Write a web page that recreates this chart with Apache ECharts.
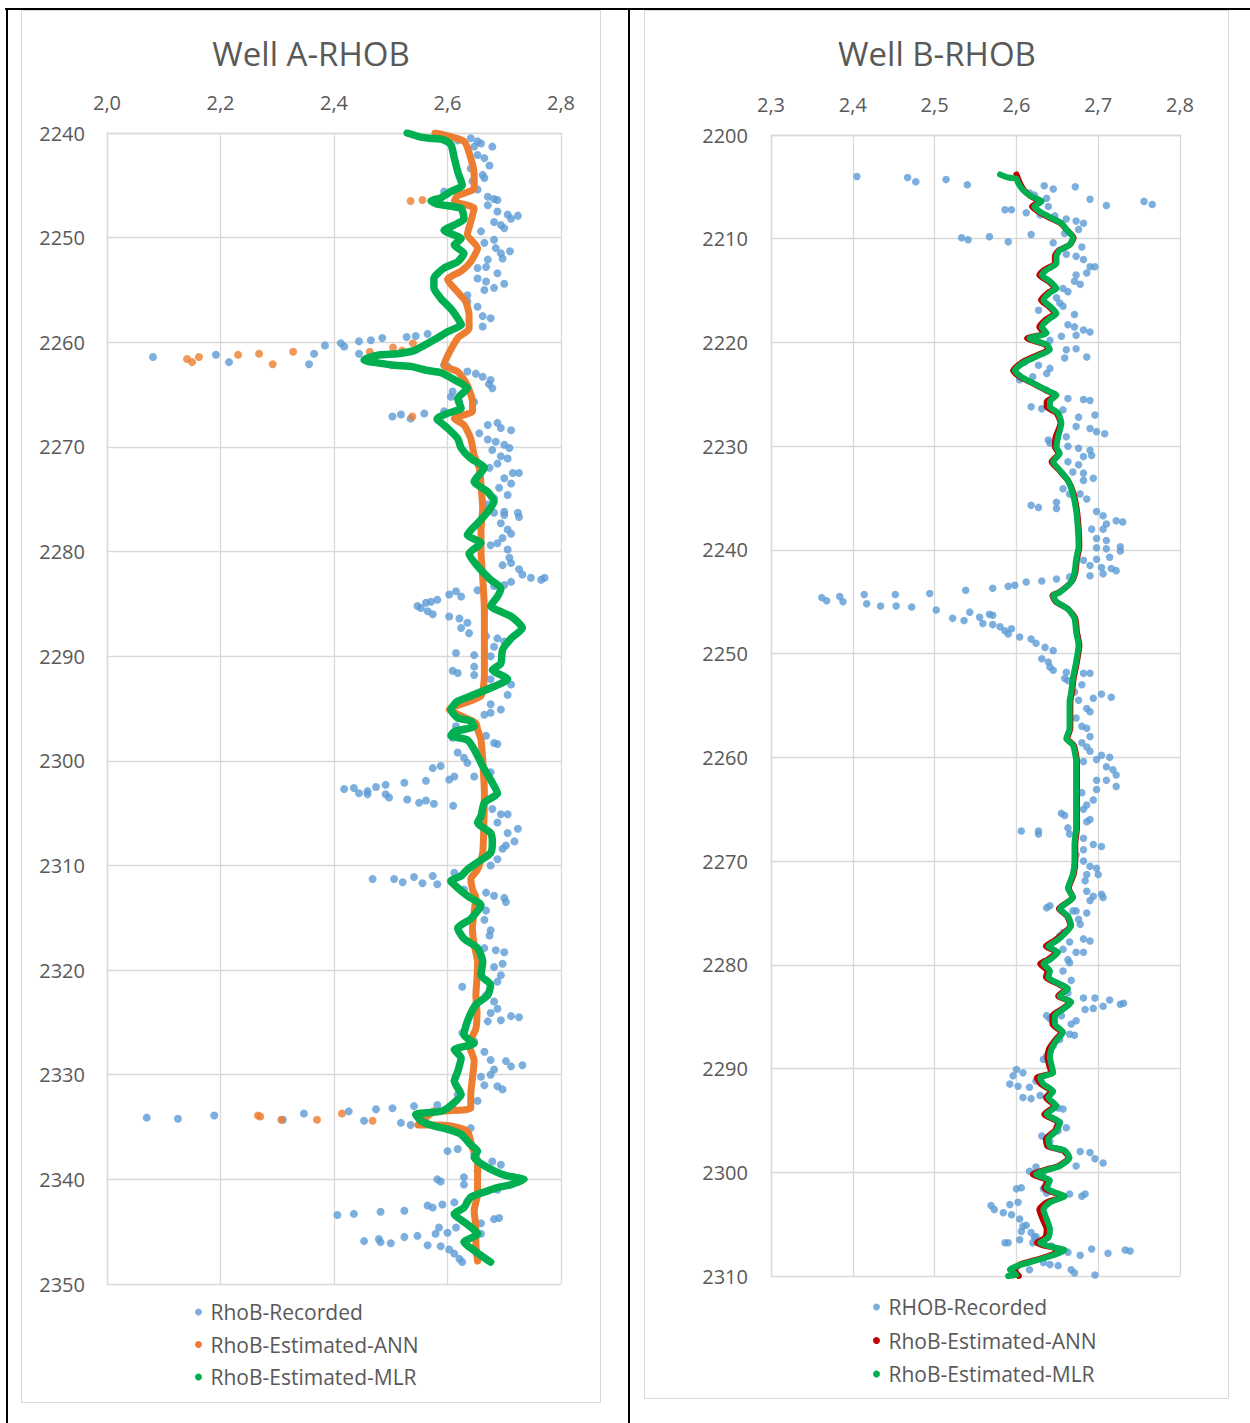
<!DOCTYPE html>
<html>
<head>
<meta charset="utf-8">
<script src="https://cdn.jsdelivr.net/npm/echarts@6/dist/echarts.min.js"></script>
<style>
html,body{margin:0;padding:0;background:#fff;}
#page{position:relative;width:1250px;height:1423px;overflow:hidden;background:#fff;}
.chart{position:absolute;left:0;top:0;width:1250px;height:1423px;}
.bl{position:absolute;background:#000;}
.gb{position:absolute;border:1.5px solid #D9D9D9;box-sizing:border-box;}
</style>
</head>
<body>
<div id="page">
  <div class="bl" style="left:5px;top:8px;width:1245px;height:2px;"></div>
  <div class="bl" style="left:6px;top:8px;width:2px;height:1415px;"></div>
  <div class="bl" style="left:628px;top:8px;width:2px;height:1415px;"></div>
  <div class="gb" style="left:21px;top:10px;width:580px;height:1393px;"></div>
  <div class="gb" style="left:644px;top:10px;width:585px;height:1389px;"></div>
  <div id="chartA" class="chart"></div>
  <div id="chartB" class="chart"></div>
</div>
<script>
// ---------------- Well A data: [RHOB value, depth] ----------------
const wellA_xTicks = [2.0, 2.8, 0.2];
const wellA_yTicks = [2240, 2350, 10];
const wellA_recorded = [
[2.618,2240.7],[2.641,2240.5],[2.653,2240.8],[2.659,2241.0],[2.679,2241.3],[2.647,2241.3],[2.653,2242.1],[2.665,2242.4],[2.674,2243.1],[2.641,2243.4],[2.662,2244.0],[2.665,2244.3],[2.644,2244.6],[2.653,2245.4],[2.594,2245.6],[2.671,2246.1],[2.682,2246.3],[2.688,2246.4],[2.671,2246.9],[2.688,2247.5],[2.706,2247.8],[2.724,2247.9],[2.712,2248.2],[2.682,2248.5],[2.694,2248.8],[2.700,2249.1],[2.659,2249.4],[2.665,2250.5],[2.682,2250.2],[2.685,2251.0],[2.694,2251.5],[2.710,2251.3],[2.697,2252.0],[2.671,2252.1],[2.668,2252.8],[2.653,2252.9],[2.688,2253.4],[2.653,2253.9],[2.668,2254.2],[2.700,2254.4],[2.682,2254.8],[2.665,2255.0],[2.635,2255.5],[2.635,2256.1],[2.653,2256.6],[2.662,2257.5],[2.676,2257.7],[2.662,2258.5],[2.624,2258.3],
[2.565,2259.2],[2.544,2259.4],[2.528,2259.5],[2.485,2259.6],[2.465,2259.8],[2.444,2259.9],[2.412,2260.1],[2.418,2260.4],[2.384,2260.3],[2.365,2261.1],[2.356,2262.1],[2.444,2261.1],[2.594,2262.2],[2.081,2261.4],[2.192,2261.2],[2.215,2261.9],
[2.600,2262.3],[2.635,2262.8],[2.650,2263.0],[2.662,2263.3],[2.676,2263.6],[2.673,2264.0],[2.679,2264.4],[2.609,2264.7],[2.606,2265.2],[2.621,2265.7],[2.647,2265.7],[2.503,2267.1],[2.518,2266.9],[2.535,2267.3],[2.559,2266.8],[2.594,2266.6],[2.582,2267.4],[2.671,2267.9],[2.688,2267.7],[2.694,2268.2],[2.712,2268.4],[2.656,2268.7],[2.671,2269.3],[2.685,2269.5],[2.700,2269.8],[2.709,2270.1],[2.679,2270.3],[2.694,2270.9],[2.706,2271.1],[2.688,2271.6],[2.674,2272.0],[2.715,2272.5],[2.726,2272.5],[2.700,2273.0],[2.712,2273.5],[2.691,2273.9],[2.706,2274.6],[2.682,2274.9],[2.671,2275.5],[2.700,2276.2],[2.724,2276.3],
[2.682,2276.3],[2.700,2276.5],[2.726,2276.7],[2.694,2277.3],[2.706,2277.9],[2.712,2278.3],[2.697,2278.7],[2.688,2279.2],[2.676,2279.4],[2.706,2279.8],[2.709,2280.6],[2.712,2281.1],[2.697,2281.3],[2.726,2281.7],[2.732,2282.2],[2.747,2282.5],[2.765,2282.7],[2.771,2282.5],[2.712,2282.9],[2.700,2283.2],[2.653,2283.7],[2.682,2283.3],
[2.547,2285.2],[2.553,2285.4],[2.562,2284.9],[2.571,2284.8],[2.582,2284.6],[2.565,2285.7],[2.574,2286.0],[2.603,2284.1],[2.615,2283.8],[2.624,2284.3],[2.603,2286.2],[2.621,2286.4],[2.635,2286.8],[2.624,2287.3],[2.638,2287.8],[2.668,2288.1],[2.688,2288.3],[2.700,2288.6],[2.682,2289.1],[2.615,2289.7],[2.647,2289.9],[2.676,2290.0],[2.647,2291.0],[2.609,2291.4],[2.618,2291.6],[2.647,2291.8],[2.676,2292.2],[2.712,2292.7],[2.706,2293.7],[2.676,2294.6],[2.694,2295.1],[2.676,2295.4],[2.665,2295.6],[2.615,2296.7],[2.629,2297.0],[2.609,2297.8],[2.668,2297.6],[2.682,2298.3],[2.688,2298.4],[2.618,2299.2],[2.629,2299.7],[2.635,2300.2],[2.647,2301.5],[2.676,2301.1],[2.612,2301.5],[2.603,2301.8],[2.588,2300.5],[2.574,2300.7],[2.562,2301.9],[2.524,2302.1],[2.491,2302.3],[2.474,2302.5],[2.459,2302.9],[2.459,2303.2],[2.444,2303.1],[2.435,2302.6],[2.418,2302.7],[2.491,2303.2],[2.497,2303.5],[2.529,2303.7],[2.550,2304.0],[2.562,2303.8],[2.576,2304.1],[2.610,2304.3],[2.679,2304.6],[2.694,2305.1],[2.706,2305.1],[2.688,2305.9],[2.724,2306.5],[2.706,2306.9],[2.718,2307.7],[2.703,2308.1],[2.697,2308.4],[2.688,2309.4],[2.676,2310.0],[2.612,2310.7],[2.468,2311.3],[2.506,2311.3],[2.521,2311.6],[2.541,2311.1],[2.556,2311.7],[2.574,2311.0],[2.582,2311.8],[2.606,2311.5],[2.629,2312.3],[2.668,2312.6],[2.682,2312.9],[2.700,2313.1],
[2.703,2313.5],[2.668,2314.3],[2.665,2315.2],[2.676,2316.2],[2.674,2316.7],[2.665,2317.9],[2.685,2318.1],[2.700,2318.3],[2.697,2319.4],[2.682,2319.7],[2.626,2321.6],[2.694,2320.5],[2.688,2321.1],[2.668,2322.4],[2.682,2323.0],[2.688,2323.7],[2.676,2324.1],[2.694,2324.8],[2.712,2324.4],[2.726,2324.5],[2.671,2324.9],[2.626,2326.0],[2.647,2326.8],[2.665,2327.8],[2.676,2328.6],[2.703,2328.7],[2.712,2329.2],[2.732,2329.1],[2.682,2329.5],[2.676,2330.0],[2.659,2330.2],[2.665,2331.0],[2.688,2331.1],[2.697,2331.4],[2.653,2332.5],[2.618,2331.9],[2.609,2332.9],[2.582,2332.9],[2.541,2333.0],[2.503,2333.2],[2.474,2333.3],[2.426,2333.5],[2.347,2333.7],[2.453,2334.4],[2.518,2334.6],[2.535,2334.8],[2.600,2335.2],[2.641,2335.1],[2.070,2334.1],[2.125,2334.2],[2.189,2333.9],[2.310,2334.3],
[2.600,2337.3],[2.618,2337.1],[2.647,2337.6],[2.679,2338.3],[2.694,2338.6],[2.653,2339.2],[2.582,2340.0],[2.588,2340.2],[2.629,2339.8],[2.629,2340.5],[2.688,2341.0],[2.635,2342.1],[2.612,2342.2],[2.591,2342.4],[2.565,2342.5],[2.574,2342.7],[2.524,2343.0],[2.482,2343.1],[2.435,2343.3],[2.406,2343.4],[2.682,2343.8],[2.691,2343.7],[2.585,2344.6],[2.600,2345.1],[2.615,2344.6],[2.579,2345.2],[2.547,2345.4],[2.524,2345.5],[2.479,2345.7],[2.482,2346.0],[2.453,2345.9],[2.500,2346.1],[2.565,2346.3],[2.588,2346.4],[2.603,2346.7],[2.612,2347.1],[2.621,2347.6],[2.626,2347.9],[2.659,2345.2],[2.659,2344.2]
];
const wellA_annTrail = [
[2.578,2240.0],[2.629,2240.8],[2.641,2242.4],[2.647,2244.0],[2.647,2245.3],[2.618,2246.0],[2.612,2246.5],[2.647,2247.2],[2.641,2248.5],[2.635,2249.7],[2.653,2251.0],[2.641,2252.3],[2.624,2253.2],[2.600,2254.0],[2.618,2255.2],[2.632,2256.1],[2.638,2257.4],[2.638,2258.7],[2.618,2259.6],[2.594,2262.2],[2.618,2262.8],[2.635,2264.1],[2.644,2265.7],[2.644,2266.6],[2.612,2267.3],[2.629,2267.9],[2.641,2269.2],[2.647,2270.8],[2.656,2272.0],[2.659,2273.6],[2.662,2275.9],[2.659,2277.9],[2.659,2280.0],[2.662,2282.4],[2.665,2285.6],[2.665,2288.7],[2.665,2291.9],[2.659,2293.8],[2.629,2294.5],[2.603,2295.1],[2.624,2295.7],[2.650,2296.4],[2.653,2297.0],[2.659,2298.0],[2.662,2299.9],[2.665,2303.1],[2.664,2306.2],[2.662,2308.8],[2.653,2310.4],[2.641,2311.3],[2.644,2312.3],[2.650,2313.0],[2.647,2314.4],[2.644,2316.0],[2.647,2317.6],[2.653,2319.2],[2.652,2320.8],[2.650,2322.4],[2.652,2324.0],[2.650,2325.6],[2.638,2327.1],[2.647,2328.7],[2.644,2330.3],[2.641,2331.9],[2.641,2333.2],[2.575,2333.6],[2.548,2334.8],[2.576,2334.8],[2.606,2334.9],[2.635,2335.4],[2.644,2337.0],[2.653,2338.3],[2.653,2339.8],[2.653,2341.4],[2.647,2343.0],[2.650,2344.6],[2.650,2346.2],[2.653,2347.8]
];
const wellA_annIsolated = [
[2.535,2246.5],[2.556,2246.4],[2.141,2261.6],[2.150,2261.9],[2.162,2261.4],[2.231,2261.2],[2.268,2261.1],[2.292,2262.1],[2.328,2260.9],[2.463,2260.9],[2.504,2260.5],[2.520,2260.8],[2.539,2260.1],[2.502,2262.2],[2.538,2267.1],[2.266,2333.9],[2.270,2334.0],[2.307,2334.3],[2.370,2334.3],[2.414,2333.7],[2.468,2334.4],[2.575,2333.5]
];
const wellA_mlrTrail = [
[2.529,2240.0],[2.553,2240.4],[2.568,2240.5],[2.591,2240.6],[2.606,2241.1],[2.612,2242.4],[2.618,2243.7],[2.626,2245.0],[2.606,2245.6],[2.588,2246.2],[2.571,2246.5],[2.582,2246.8],[2.624,2247.2],[2.629,2248.2],[2.612,2248.8],[2.594,2249.3],[2.624,2250.1],[2.612,2250.7],[2.629,2251.5],[2.618,2252.3],[2.594,2252.9],[2.576,2253.9],[2.576,2254.8],[2.588,2255.8],[2.606,2256.8],[2.618,2257.7],[2.624,2258.3],[2.600,2259.0],[2.582,2259.6],[2.559,2260.3],[2.541,2260.8],[2.512,2261.1],[2.482,2261.2],[2.459,2261.5],[2.453,2261.7],[2.506,2262.2],[2.535,2262.3],[2.565,2262.7],[2.588,2262.9],[2.606,2263.4],[2.635,2264.4],[2.618,2265.4],[2.624,2266.3],[2.600,2266.8],[2.582,2267.3],[2.600,2268.2],[2.618,2269.2],[2.624,2270.1],[2.641,2271.1],[2.665,2272.0],[2.647,2273.3],[2.671,2274.3],[2.682,2275.2],[2.671,2276.2],[2.653,2277.3],[2.635,2278.4],[2.659,2279.2],[2.638,2280.2],[2.653,2281.4],[2.676,2282.7],[2.694,2283.5],[2.688,2284.3],[2.676,2285.2],[2.712,2286.2],[2.732,2287.3],[2.712,2288.3],[2.697,2289.4],[2.694,2290.7],[2.679,2291.3],[2.706,2292.2],[2.682,2292.9],[2.641,2293.8],[2.618,2294.3],[2.606,2295.1],[2.618,2295.9],[2.641,2296.2],[2.647,2296.7],[2.612,2297.2],[2.606,2297.6],[2.635,2298.0],[2.647,2298.9],[2.662,2300.5],[2.679,2302.1],[2.688,2303.1],[2.665,2304.0],[2.659,2305.3],[2.653,2305.9],[2.676,2306.9],[2.679,2307.8],[2.676,2308.8],[2.653,2309.7],[2.635,2310.4],[2.624,2311.0],[2.606,2311.5],[2.615,2312.0],[2.635,2312.9],[2.659,2313.8],[2.641,2315.1],[2.618,2316.0],[2.629,2317.0],[2.653,2317.9],[2.662,2319.2],[2.659,2320.5],[2.676,2321.4],[2.671,2322.4],[2.650,2323.3],[2.635,2324.9],[2.629,2326.2],[2.647,2327.0],[2.612,2327.6],[2.624,2328.4],[2.618,2329.7],[2.612,2330.6],[2.624,2331.9],[2.600,2333.2],[2.588,2333.5],[2.544,2333.8],[2.553,2334.4],[2.576,2334.9],[2.600,2335.2],[2.624,2335.7],[2.641,2336.7],[2.653,2337.3],[2.647,2337.9],[2.662,2338.6],[2.682,2339.2],[2.700,2339.6],[2.718,2339.8],[2.735,2340.0],[2.712,2340.5],[2.688,2340.8],[2.671,2341.1],[2.641,2341.7],[2.629,2342.7],[2.612,2343.3],[2.635,2344.3],[2.653,2345.2],[2.629,2346.0],[2.647,2346.8],[2.665,2347.5],[2.676,2347.9]
];

// ---------------- Well B data: [RHOB value, depth] ----------------
const wellB_xTicks = [2.3, 2.8, 0.1];
const wellB_yTicks = [2200, 2310, 10];
const wellB_recorded = [
[2.405,2204.0],[2.467,2204.1],[2.477,2204.5],[2.514,2204.3],[2.540,2204.8],[2.634,2204.9],[2.672,2205.0],[2.690,2206.2],[2.710,2206.8],[2.756,2206.4],[2.766,2206.7],
[2.645,2205.2],[2.616,2205.6],[2.622,2205.8],[2.637,2206.1],[2.586,2207.2],[2.594,2207.2],[2.612,2207.5],[2.629,2207.7],[2.639,2206.9],[2.647,2207.8],[2.661,2208.1],[2.673,2208.3],[2.682,2208.5],[2.676,2209.1],[2.659,2209.5],[2.618,2209.6],[2.533,2209.9],[2.541,2210.1],[2.567,2209.8],[2.590,2210.3],[2.645,2210.4],[2.680,2210.8],[2.661,2211.5],[2.673,2211.7],[2.682,2212.0],[2.690,2212.7],[2.696,2212.7],[2.686,2213.3],[2.673,2213.5],[2.671,2214.1],[2.678,2214.4],[2.657,2214.8],[2.663,2215.1],[2.649,2215.7],[2.653,2216.2],[2.657,2216.5],[2.627,2216.9],[2.671,2217.3],[2.663,2218.3],[2.671,2218.5],[2.673,2219.3],[2.682,2218.8],[2.690,2219.0],[2.655,2219.4],[2.641,2219.8],[2.661,2220.7],[2.673,2220.6],[2.686,2221.4],[2.659,2221.5],[2.610,2221.9],[2.627,2222.2],[2.641,2222.5],[2.637,2223.0],[2.620,2223.3],[2.604,2223.6],[2.637,2224.6],[2.663,2225.4],[2.682,2225.5],[2.690,2225.6],[2.618,2226.2],[2.631,2226.4],[2.657,2226.5],[2.676,2227.2],[2.696,2227.0],[2.673,2228.1],[2.690,2228.3],[2.698,2228.6],[2.708,2228.8],[2.661,2229.1],[2.639,2229.4],[2.641,2229.7],[2.663,2230.0],[2.676,2230.2],[2.690,2230.4],[2.692,2230.9],[2.682,2231.0],[2.663,2231.5],[2.676,2231.8],[2.669,2232.5],[2.682,2232.6],[2.694,2233.1],[2.682,2233.3],[2.657,2234.1],[2.665,2234.6],[2.678,2234.6],[2.686,2235.1],[2.618,2235.7],[2.627,2235.9],[2.649,2235.4],[2.649,2236.0],[2.698,2236.3],[2.706,2236.7],[2.722,2237.2],[2.730,2237.3],[2.710,2237.5],[2.692,2238.0],[2.706,2238.0],[2.698,2238.9],[2.710,2239.1],[2.727,2239.7],
[2.698,2239.8],[2.710,2239.9],[2.727,2240.1],[2.714,2240.7],[2.698,2240.9],[2.682,2241.0],[2.690,2241.5],[2.704,2241.7],[2.716,2241.8],[2.722,2242.0],[2.690,2242.5],[2.706,2242.3],
[2.649,2242.8],[2.631,2243.0],[2.612,2243.1],[2.598,2243.4],[2.590,2243.5],[2.571,2243.7],[2.538,2243.9],[2.665,2242.6],
[2.362,2244.6],[2.368,2244.9],[2.384,2244.5],[2.388,2245.0],[2.414,2244.3],[2.417,2245.2],[2.434,2245.4],[2.452,2244.3],[2.453,2245.4],[2.472,2245.5],[2.494,2244.2],[2.502,2245.8],
[2.522,2246.6],[2.536,2246.8],[2.543,2246.0],[2.555,2246.5],[2.559,2247.1],[2.567,2246.2],[2.571,2246.3],[2.571,2247.2],[2.580,2247.4],[2.586,2247.8],[2.590,2248.1],[2.594,2247.6],[2.604,2248.4],[2.618,2248.6],[2.624,2249.0],[2.635,2249.4],[2.645,2249.7],[2.631,2250.5],[2.639,2250.8],[2.641,2251.3],[2.645,2251.6],[2.661,2251.8],[2.659,2252.4],[2.663,2252.6],[2.682,2251.9],[2.690,2251.9],[2.680,2253.0],[2.671,2253.7],[2.694,2254.3],[2.704,2253.9],[2.716,2254.2],[2.676,2254.5],[2.686,2255.3],[2.690,2255.6],[2.673,2256.2],[2.680,2257.0],[2.686,2257.2],[2.690,2258.0],[2.680,2258.6],[2.686,2259.0],[2.690,2259.4],[2.682,2260.4],[2.698,2260.2],[2.704,2259.8],[2.714,2260.0],[2.710,2260.9],[2.718,2261.2],[2.722,2261.7],[2.698,2262.2],[2.710,2262.2],[2.722,2262.8],[2.698,2263.1],[2.680,2263.4],[2.694,2264.1],[2.686,2264.6],[2.682,2265.0],[2.655,2265.4],[2.659,2265.6],[2.690,2266.0],[2.686,2266.2],[2.606,2267.1],[2.627,2267.1],[2.627,2267.4],[2.663,2266.8],[2.665,2267.4],[2.682,2267.8],[2.694,2268.4],[2.704,2268.6],[2.682,2268.9],[2.673,2269.4],[2.682,2270.0],[2.690,2270.5],[2.698,2270.7],[2.700,2271.3],[2.686,2271.3],[2.684,2271.9],[2.686,2272.9],[2.694,2273.4],[2.704,2273.2],[2.706,2273.5],[2.690,2273.8],[2.641,2274.3],[2.637,2274.5],[2.653,2274.6],[2.673,2274.8],
[2.669,2274.8],[2.686,2275.0],[2.676,2275.6],[2.678,2276.1],[2.657,2276.9],[2.653,2277.2],[2.665,2277.8],[2.682,2277.5],[2.690,2277.7],[2.657,2278.5],[2.673,2278.8],[2.682,2278.8],[2.663,2279.5],[2.665,2279.8],[2.657,2280.6],[2.667,2281.5],[2.655,2282.0],[2.663,2282.7],[2.682,2283.2],[2.696,2283.2],[2.714,2283.4],[2.727,2283.8],[2.731,2283.7],[2.706,2284.0],[2.694,2284.2],[2.684,2284.3],[2.637,2284.9],[2.641,2285.2],[2.655,2284.9],[2.673,2285.4],[2.667,2285.7],[2.665,2286.7],[2.671,2286.8],[2.653,2287.2],[2.645,2287.8],[2.637,2288.8],[2.633,2289.1],[2.600,2290.1],[2.608,2290.4],[2.596,2290.7],[2.592,2291.5],[2.602,2291.7],[2.616,2291.8],[2.624,2291.2],[2.608,2292.8],[2.618,2292.9],[2.629,2292.6],[2.651,2293.8],[2.657,2293.9],[2.653,2295.2],[2.661,2295.7],[2.651,2296.0],[2.631,2296.5],[2.641,2297.0],[2.653,2297.8],[2.678,2298.0],[2.690,2298.1],[2.696,2298.7],[2.706,2299.1],[2.673,2299.4],[2.616,2299.9],[2.624,2299.5],[2.633,2300.0],[2.606,2301.5],[2.600,2301.6],[2.633,2301.6],[2.637,2302.0],[2.665,2302.1],[2.680,2302.3],[2.684,2302.1],[2.569,2303.2],[2.573,2303.6],[2.584,2303.9],[2.594,2304.1],[2.592,2303.1],[2.602,2302.9],[2.604,2304.5],[2.608,2305.2],[2.612,2305.1],[2.606,2305.7],[2.618,2305.8],[2.622,2306.3],[2.586,2306.8],[2.590,2306.8],[2.604,2306.5],[2.624,2306.2],[2.620,2306.8],[2.643,2307.1],[2.653,2307.4],[2.663,2307.7],[2.678,2308.0],[2.692,2307.4],[2.712,2307.8],[2.733,2307.5],[2.739,2307.6],[2.633,2308.7],[2.641,2308.9],[2.651,2309.0],[2.667,2309.4],[2.671,2309.7],[2.696,2309.9],[2.616,2309.4]
];
const wellB_annTrail = [
[2.600,2203.8],[2.602,2204.2],[2.604,2204.6],[2.609,2205.3],[2.617,2205.9],[2.628,2206.4],[2.619,2206.9],[2.627,2207.4],[2.641,2208.0],[2.654,2208.5],[2.661,2209.1],[2.670,2209.9],[2.665,2210.6],[2.652,2211.1],[2.647,2211.7],[2.647,2212.4],[2.634,2213.0],[2.628,2213.5],[2.639,2214.1],[2.647,2214.8],[2.639,2215.2],[2.630,2215.9],[2.639,2216.5],[2.647,2217.2],[2.636,2217.8],[2.628,2218.5],[2.635,2219.1],[2.613,2219.6],[2.635,2220.2],[2.639,2220.7],[2.626,2221.2],[2.607,2221.9],[2.596,2222.7],[2.604,2223.3],[2.619,2223.9],[2.636,2224.6],[2.648,2225.1],[2.637,2225.7],[2.637,2226.2],[2.649,2226.8],[2.654,2227.8],[2.648,2229.1],[2.647,2230.1],[2.652,2230.7],[2.643,2231.5],[2.652,2232.3],[2.663,2233.3],[2.670,2234.6],[2.674,2236.2],[2.676,2237.8],[2.677,2239.7],[2.674,2240.9],[2.672,2242.2],[2.667,2243.1],[2.652,2244.1],[2.644,2244.4],[2.648,2245.0],[2.663,2245.7],[2.672,2246.6],[2.674,2247.9],[2.677,2249.2],[2.674,2250.8],[2.670,2252.4],[2.668,2253.7],[2.666,2254.6],[2.666,2255.9],[2.666,2257.2],[2.662,2258.2],[2.670,2258.8],[2.674,2260.4],[2.674,2262.0],[2.674,2263.6],[2.674,2265.2],[2.674,2266.8],[2.672,2268.4],[2.672,2270.0],[2.670,2271.3],[2.664,2272.6],[2.669,2273.5],[2.656,2274.3],[2.652,2274.6],[2.662,2275.3],[2.666,2276.2],[2.657,2277.0],[2.646,2277.7],[2.636,2278.2],[2.649,2278.8],[2.638,2279.5],[2.629,2279.9],[2.638,2280.6],[2.636,2281.2],[2.647,2281.7],[2.662,2282.3],[2.651,2283.0],[2.666,2283.6],[2.655,2284.3],[2.644,2284.9],[2.644,2285.7],[2.655,2286.5],[2.647,2287.3],[2.640,2288.1],[2.638,2288.9],[2.640,2289.7],[2.643,2290.4],[2.625,2290.9],[2.630,2291.5],[2.643,2292.2],[2.636,2292.8],[2.647,2293.6],[2.634,2294.4],[2.651,2295.2],[2.647,2296.0],[2.636,2296.8],[2.638,2297.5],[2.657,2297.9],[2.664,2298.6],[2.651,2299.4],[2.638,2299.7],[2.620,2300.2],[2.638,2300.8],[2.634,2301.5],[2.647,2302.0],[2.657,2302.3],[2.637,2302.9],[2.628,2303.6],[2.632,2304.5],[2.637,2305.5],[2.635,2306.3],[2.625,2306.8],[2.647,2307.3],[2.657,2307.5],[2.638,2308.1],[2.617,2308.6],[2.604,2308.9],[2.598,2309.4],[2.603,2310.0]
];
const wellB_mlrTrail = [
[2.580,2203.8],[2.590,2204.1],[2.600,2204.2],[2.602,2204.6],[2.608,2205.3],[2.618,2205.9],[2.631,2206.4],[2.622,2206.9],[2.629,2207.4],[2.643,2208.0],[2.655,2208.5],[2.661,2209.1],[2.669,2209.9],[2.665,2210.6],[2.653,2211.1],[2.649,2211.7],[2.649,2212.4],[2.637,2213.0],[2.631,2213.5],[2.641,2214.1],[2.649,2214.8],[2.641,2215.2],[2.633,2215.9],[2.641,2216.5],[2.649,2217.2],[2.639,2217.8],[2.631,2218.5],[2.637,2219.1],[2.616,2219.6],[2.637,2220.2],[2.641,2220.7],[2.629,2221.2],[2.610,2221.9],[2.598,2222.7],[2.606,2223.3],[2.620,2223.9],[2.637,2224.6],[2.649,2225.1],[2.641,2225.7],[2.641,2226.2],[2.651,2226.8],[2.655,2227.8],[2.651,2229.1],[2.649,2230.1],[2.653,2230.7],[2.645,2231.5],[2.653,2232.3],[2.663,2233.3],[2.669,2234.6],[2.673,2236.2],[2.675,2237.8],[2.676,2239.7],[2.673,2240.9],[2.671,2242.2],[2.667,2243.1],[2.653,2244.1],[2.645,2244.4],[2.649,2245.0],[2.663,2245.7],[2.671,2246.6],[2.673,2247.9],[2.676,2249.2],[2.673,2250.8],[2.669,2252.4],[2.667,2253.7],[2.665,2254.6],[2.665,2255.9],[2.665,2257.2],[2.661,2258.2],[2.669,2258.8],[2.673,2260.4],[2.673,2262.0],[2.673,2263.6],[2.673,2265.2],[2.673,2266.8],[2.671,2268.4],[2.671,2270.0],[2.669,2271.3],[2.663,2272.6],[2.669,2273.5],[2.657,2274.3],[2.653,2274.6],[2.663,2275.3],[2.667,2276.2],[2.659,2277.0],[2.649,2277.7],[2.639,2278.2],[2.651,2278.8],[2.641,2279.5],[2.633,2279.9],[2.641,2280.6],[2.639,2281.2],[2.649,2281.7],[2.663,2282.3],[2.653,2283.0],[2.667,2283.6],[2.657,2284.3],[2.647,2284.9],[2.647,2285.7],[2.657,2286.5],[2.649,2287.3],[2.643,2288.1],[2.641,2288.9],[2.643,2289.7],[2.645,2290.4],[2.629,2290.9],[2.633,2291.5],[2.645,2292.2],[2.639,2292.8],[2.649,2293.6],[2.637,2294.4],[2.653,2295.2],[2.649,2296.0],[2.639,2296.8],[2.641,2297.5],[2.659,2297.9],[2.665,2298.6],[2.653,2299.4],[2.641,2299.7],[2.624,2300.2],[2.641,2300.8],[2.637,2301.5],[2.649,2302.0],[2.659,2302.3],[2.641,2302.9],[2.633,2303.6],[2.637,2304.5],[2.641,2305.5],[2.639,2306.3],[2.629,2306.8],[2.649,2307.3],[2.659,2307.5],[2.641,2308.1],[2.620,2308.6],[2.606,2308.9],[2.592,2309.4],[2.600,2309.9],[2.590,2310.0]
];

// ---------------- styling ----------------
const FONT = "'Open Sans', 'Noto Sans', sans-serif";
const TXT = '#595959';
const GRID = '#D9D9D9';
const BLUE = '#5B9BD5', ORANGE = '#ED7D31', GREEN = '#00B050', RED = '#C00000';

function fmtX(v){ return (Math.round(v*10)/10).toFixed(1).replace('.', ','); }
function fmtY(v){ return String(Math.round(v)); }

function axes(xt, yt, ymargin, xmargin){
  return {
    xAxis: {
      type: 'value', position: 'top', min: xt[0], max: xt[1], interval: xt[2],
      axisLine: {show: true, lineStyle: {color: GRID, width: 1.3}},
      axisTick: {show: false},
      splitLine: {show: true, lineStyle: {color: GRID, width: 1.3}},
      axisLabel: {color: TXT, fontSize: 20, fontFamily: FONT, margin: xmargin, formatter: fmtX}
    },
    yAxis: {
      type: 'value', inverse: true, min: yt[0], max: yt[1], interval: yt[2],
      axisLine: {show: true, lineStyle: {color: GRID, width: 1.3}},
      axisTick: {show: false},
      splitLine: {show: true, lineStyle: {color: GRID, width: 1.3}},
      axisLabel: {color: TXT, fontSize: 20, fontFamily: FONT, margin: ymargin, formatter: fmtY}
    }
  };
}

function legendCfg(names, left, top, gap){
  return {
    orient: 'vertical', left: left, top: top, icon: 'circle',
    itemWidth: 14, itemHeight: 7, itemGap: gap, padding: 5,
    selectedMode: false,
    textStyle: {color: TXT, fontSize: 21, fontFamily: FONT, lineHeight: 22},
    data: names
  };
}

// ---------------- Chart A ----------------
const chartA = echarts.init(document.getElementById('chartA'), null, {renderer: 'svg'});
const axA = axes(wellA_xTicks, wellA_yTicks, 22, 21);
chartA.setOption({
  animation: false,
  grid: {left: 107, top: 133, width: 454, height: 1151},
  xAxis: axA.xAxis, yAxis: axA.yAxis,
  graphic: [{type: 'text', style: {text: 'Well A-RHOB', x: 311, y: 53, textAlign: 'center', textVerticalAlign: 'middle', fill: TXT, fontSize: 33, fontFamily: FONT}}],
  legend: legendCfg(['RhoB-Recorded', 'RhoB-Estimated-ANN', 'RhoB-Estimated-MLR'], 190, 1296, 10.5),
  series: [
    {name: 'RhoB-Recorded', type: 'scatter', data: wellA_recorded, symbolSize: 8, itemStyle: {color: BLUE}, z: 2},
    {name: 'RhoB-Estimated-ANN', type: 'line', data: wellA_annTrail, symbol: 'none', smooth: 0.2, color: ORANGE, lineStyle: {color: ORANGE, width: 7, cap: 'round', join: 'round'}, itemStyle: {color: ORANGE}, z: 3},
    {name: 'RhoB-Estimated-ANN', type: 'scatter', data: wellA_annIsolated, symbolSize: 8, itemStyle: {color: ORANGE}, z: 3},
    {name: 'RhoB-Estimated-MLR', type: 'line', data: wellA_mlrTrail, symbol: 'none', smooth: 0.2, color: GREEN, lineStyle: {color: GREEN, width: 7.5, cap: 'round', join: 'round'}, itemStyle: {color: GREEN}, z: 4}
  ]
});

// ---------------- Chart B ----------------
const chartB = echarts.init(document.getElementById('chartB'), null, {renderer: 'svg'});
const axB = axes(wellB_xTicks, wellB_yTicks, 23, 21);
chartB.setOption({
  animation: false,
  grid: {left: 771, top: 135, width: 409, height: 1141},
  xAxis: axB.xAxis, yAxis: axB.yAxis,
  graphic: [{type: 'text', style: {text: 'Well B-RHOB', x: 937, y: 53, textAlign: 'center', textVerticalAlign: 'middle', fill: TXT, fontSize: 33, fontFamily: FONT}}],
  legend: legendCfg(['RHOB-Recorded', 'RhoB-Estimated-ANN', 'RhoB-Estimated-MLR'], 868, 1291, 11.5),
  series: [
    {name: 'RHOB-Recorded', type: 'scatter', data: wellB_recorded, symbolSize: 7.5, itemStyle: {color: BLUE}, z: 2},
    {name: 'RhoB-Estimated-ANN', type: 'line', data: wellB_annTrail, symbol: 'none', smooth: 0.2, color: RED, lineStyle: {color: RED, width: 6, cap: 'round', join: 'round'}, itemStyle: {color: RED}, z: 3},
    {name: 'RhoB-Estimated-MLR', type: 'line', data: wellB_mlrTrail, symbol: 'none', smooth: 0.2, color: GREEN, lineStyle: {color: GREEN, width: 6, cap: 'round', join: 'round'}, itemStyle: {color: GREEN}, z: 4}
  ]
});
</script>
</body>
</html>
